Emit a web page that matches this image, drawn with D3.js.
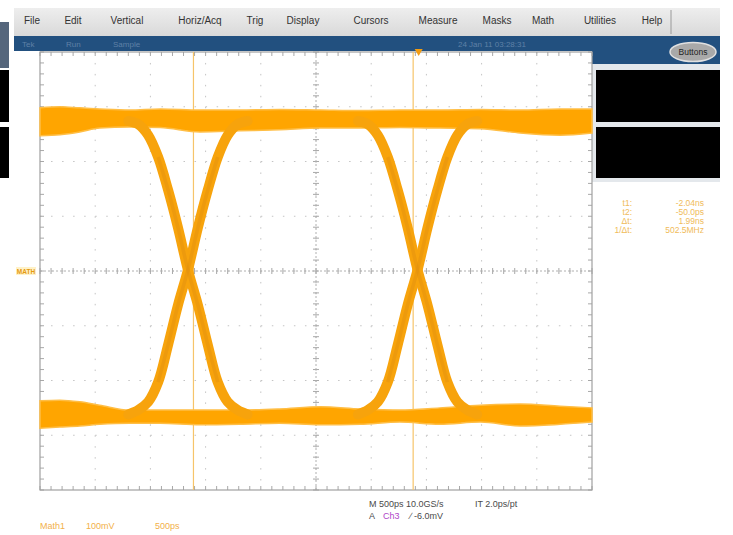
<!DOCTYPE html>
<html>
<head>
<meta charset="utf-8">
<script src="https://cdn.jsdelivr.net/npm/d3@7"></script>
<style>
body { margin: 0; background: #fff; }
svg { display: block; font-family: "Liberation Sans", "DejaVu Sans", sans-serif; }
</style>
</head>
<body>
<svg id="scope" width="733" height="535"></svg>
<script>
// menu + status texts
var menuItems = ["File", "Edit", "Vertical", "Horiz/Acq", "Trig", "Display", "Cursors", "Measure", "Masks", "Math", "Utilities", "Help"];
var statusItems = ["Tek", "Run", "Sample"];
var dateStamp = "24 Jan 11 03:28:31";

// horizontal: 10 div x 500 ps, vertical: 8 div x 100 mV
var timeRangePs = [-3430, 1570];
var voltRangeMv = [-400, 400];
var divPs = 500;
var divMv = 100;

var cursorTimesPs = [-2040, -50];
var triggerTimePs = 0;

// eye crossings and the shape of one rising edge around a crossing
var crossingTimesPs = [-2090, -10];
var edgeDtPs = [-540, -450, -360, -270, -180, -90, 0, 90, 180, 270, 360, 450, 540];
var edgeRiseMv = [-262, -254, -239, -203, -135, -62, 2, 79, 148, 208, 248, 268, 274];

// envelopes of the "1" and "0" bands
var bandTimesPs = [-3430, -3250, -3070, -2890, -2620, -2340, -1980, -1620, -1260, -890, -530, -170, 190, 560, 920, 1280, 1570];
var highUpperMv = [298, 300, 298, 296, 294, 296, 294, 294, 295, 294, 293, 294, 294, 295, 294, 296, 296];
var highLowerMv = [247, 249, 254, 261, 263, 262, 254, 256, 258, 261, 261, 262, 261, 260, 252, 248, 252];
var lowUpperMv = [-237, -236, -239, -245, -254, -254, -254, -254, -252, -248, -252, -254, -250, -245, -243, -247, -250];
var lowLowerMv = [-287, -285, -283, -280, -278, -278, -281, -280, -278, -281, -280, -276, -280, -276, -283, -280, -276];

var readoutLabels = ["t1:", "t2:", "\u0394t:", "1/\u0394t:"];
var readoutValues = ["-2.04ns", "-50.0ps", "1.99ns", "502.5MHz"];

var svg = d3.select("#scope");

var x = d3.scaleLinear().domain(timeRangePs).range([40, 592]),
    y = d3.scaleLinear().domain(voltRangeMv).range([490, 52]);

var orange = "#FFA500";

// ---------- window chrome ----------
var grad = svg.append("defs").append("linearGradient")
    .attr("id", "menuGrad").attr("x1", 0).attr("y1", 0).attr("x2", 0).attr("y2", 1);
grad.append("stop").attr("offset", "0%").attr("stop-color", "#eeeeee");
grad.append("stop").attr("offset", "100%").attr("stop-color", "#d9d9d9");

svg.append("rect").attr("x", 14).attr("y", 8).attr("width", 706).attr("height", 28)
    .attr("fill", "url(#menuGrad)");
svg.append("line").attr("x1", 671).attr("x2", 671).attr("y1", 10).attr("y2", 34)
    .attr("stroke", "#9a9a9a");

var menuCenters = [32, 73, 127, 200, 255, 303, 371, 438, 497, 543, 600, 652];
svg.selectAll(".menu")
    .data(menuItems)
    .enter().append("text")
    .attr("class", "menu")
    .attr("x", function (d, i) { return menuCenters[i]; })
    .attr("y", 24)
    .attr("text-anchor", "middle")
    .attr("font-size", 10)
    .attr("fill", "#333")
    .text(function (d) { return d; });

// blue status bar
svg.append("rect").attr("x", 14).attr("y", 36).attr("width", 706).attr("height", 15).attr("fill", "#22507f");
svg.append("rect").attr("x", 592).attr("y", 36).attr("width", 128).attr("height", 28).attr("fill", "#22507f");

var statusX = [22, 66, 113];
svg.selectAll(".status")
    .data(statusItems)
    .enter().append("text")
    .attr("x", function (d, i) { return statusX[i]; })
    .attr("y", 47)
    .attr("font-size", 8)
    .attr("fill", "#5f80a6")
    .text(function (d) { return d; });
svg.append("text").attr("x", 458).attr("y", 47).attr("font-size", 8)
    .attr("fill", "#5f80a6").text(dateStamp);

svg.append("ellipse").attr("cx", 693).attr("cy", 52).attr("rx", 23).attr("ry", 9.5)
    .attr("fill", "#a9a9a9").attr("stroke", "#e0e0e0").attr("stroke-width", 1.5);
svg.append("text").attr("x", 693).attr("y", 55).attr("text-anchor", "middle")
    .attr("font-size", 8.5).attr("fill", "#1e1e1e").text("Buttons");

// right side readout boxes
svg.append("rect").attr("x", 592).attr("y", 64).attr("width", 128).attr("height", 118).attr("fill", "#e4e8ec");
svg.append("rect").attr("x", 596).attr("y", 70).attr("width", 124).attr("height", 52).attr("fill", "#000");
svg.append("rect").attr("x", 596).attr("y", 127).attr("width", 124).attr("height", 51).attr("fill", "#000");

// partial window at the far left
svg.append("rect").attr("x", 0).attr("y", 22).attr("width", 9).attr("height", 46).attr("fill", "#55667c");
svg.append("rect").attr("x", 0).attr("y", 70).attr("width", 9).attr("height", 52).attr("fill", "#000");
svg.append("rect").attr("x", 0).attr("y", 127).attr("width", 9).attr("height", 51).attr("fill", "#000");

// ---------- graticule ----------
var g = svg.append("g");
var gridColor = "#c4c4c4";
var vDivs = d3.range(0, 11).map(function (i) { return timeRangePs[0] + i * divPs; });
var hDivs = d3.range(0, 9).map(function (i) { return voltRangeMv[0] + i * divMv; });
var tCenter = timeRangePs[0] + 5 * divPs;

g.selectAll(".vgrid").data(vDivs.slice(1, 10)).enter().append("line")
    .attr("x1", function (d) { return x(d); }).attr("x2", function (d) { return x(d); })
    .attr("y1", y(voltRangeMv[1])).attr("y2", y(voltRangeMv[0]))
    .attr("stroke", gridColor).attr("stroke-dasharray", "1.5,9.45");
g.selectAll(".hgrid").data(hDivs.slice(1, 8)).enter().append("line")
    .attr("y1", function (d) { return y(d); }).attr("y2", function (d) { return y(d); })
    .attr("x1", x(timeRangePs[0])).attr("x2", x(timeRangePs[1]))
    .attr("stroke", gridColor).attr("stroke-dasharray", "1.5,9.54");

// minor ticks on the center axes and border
var minorT = d3.range(0, 51).map(function (i) { return timeRangePs[0] + i * divPs / 5; });
var minorV = d3.range(0, 41).map(function (i) { return voltRangeMv[0] + i * divMv / 5; });

function tickSetX(yPos, dy0, dy1) {
    g.append("g").selectAll("line").data(minorT).enter().append("line")
        .attr("x1", function (d) { return x(d); }).attr("x2", function (d) { return x(d); })
        .attr("y1", yPos + dy0).attr("y2", yPos + dy1)
        .attr("stroke", "#a8a8a8");
}
function tickSetY(xPos, dx0, dx1) {
    g.append("g").selectAll("line").data(minorV).enter().append("line")
        .attr("y1", function (d) { return y(d); }).attr("y2", function (d) { return y(d); })
        .attr("x1", xPos + dx0).attr("x2", xPos + dx1)
        .attr("stroke", "#a8a8a8");
}
tickSetX(y(0), -3, 3);
tickSetY(x(tCenter), -3, 3);
tickSetX(y(voltRangeMv[1]), 0, 4);
tickSetX(y(voltRangeMv[0]), -4, 0);
tickSetY(x(timeRangePs[0]), 0, 4);
tickSetY(x(timeRangePs[1]), -4, 0);

g.append("line").attr("x1", x(timeRangePs[0])).attr("x2", x(timeRangePs[1]))
    .attr("y1", y(0)).attr("y2", y(0)).attr("stroke", "#b0b0b0").attr("stroke-dasharray", "2,2");
g.append("line").attr("x1", x(tCenter)).attr("x2", x(tCenter))
    .attr("y1", y(voltRangeMv[1])).attr("y2", y(voltRangeMv[0])).attr("stroke", "#b0b0b0").attr("stroke-dasharray", "2,2");

g.append("rect")
    .attr("x", x(timeRangePs[0])).attr("y", y(voltRangeMv[1]))
    .attr("width", x(timeRangePs[1]) - x(timeRangePs[0]))
    .attr("height", y(voltRangeMv[0]) - y(voltRangeMv[1]))
    .attr("fill", "none").attr("stroke", "#a0a0a0").attr("stroke-width", 1.2);

// cursors
g.selectAll(".cursor").data(cursorTimesPs).enter().append("line")
    .attr("x1", function (d) { return x(d); }).attr("x2", function (d) { return x(d); })
    .attr("y1", y(voltRangeMv[1])).attr("y2", y(voltRangeMv[0]))
    .attr("stroke", "#f6c46a").attr("stroke-width", 1.2);

// ---------- eye diagram ----------
var trace = svg.append("g");

var bands = [
    { upper: highUpperMv, lower: highLowerMv },
    { upper: lowUpperMv, lower: lowLowerMv }
];
var area = d3.area()
    .x(function (d) { return x(d.t); })
    .y0(function (d) { return y(d.lo); })
    .y1(function (d) { return y(d.hi); })
    .curve(d3.curveMonotoneX);

bands.forEach(function (b) {
    var pts = bandTimesPs.map(function (t, i) { return { t: t, hi: b.upper[i], lo: b.lower[i] }; });
    trace.append("path")
        .datum(pts)
        .attr("d", area)
        .attr("fill", orange)
        .attr("stroke", "#ffbe45")
        .attr("stroke-width", 1.5);
});

var line = d3.line()
    .x(function (d) { return x(d.t); })
    .y(function (d) { return y(d.v); })
    .curve(d3.curveCatmullRom);

var fallMv = edgeRiseMv.slice().reverse();
crossingTimesPs.forEach(function (c) {
    [edgeRiseMv, fallMv].forEach(function (prof) {
        var pts = edgeDtPs.map(function (dt, i) { return { t: c + dt, v: prof[i] }; });
        trace.append("path")
            .datum(pts)
            .attr("d", line)
            .attr("fill", "none")
            .attr("stroke", "#f7a30c")
            .attr("stroke-width", 10)
            .attr("stroke-linecap", "round");
    });
});
// darker core where the edges overlap
crossingTimesPs.forEach(function (c) {
    [edgeRiseMv, fallMv].forEach(function (prof) {
        var pts = edgeDtPs.slice(3, 10).map(function (dt, i) { return { t: c + dt, v: prof[i + 3] }; });
        trace.append("path")
            .datum(pts)
            .attr("d", line)
            .attr("fill", "none")
            .attr("stroke", "#d98a10")
            .attr("stroke-opacity", 0.35)
            .attr("stroke-width", 3.5);
    });
});

// trigger position marker
var tx = x(triggerTimePs);
svg.append("path")
    .attr("d", "M" + (tx - 4) + ",49 L" + (tx + 4) + ",49 L" + tx + ",56 Z")
    .attr("fill", "#f39c12");

// math reference marker
svg.append("rect").attr("x", 16).attr("y", y(0) - 4).attr("width", 20).attr("height", 8).attr("fill", "#fff2c8");
svg.append("text").attr("x", 26).attr("y", y(0) + 2.5).attr("text-anchor", "middle")
    .attr("font-size", 6.5).attr("font-weight", "bold").attr("fill", "#e59a10").text("MATH");

// cursor readout
var ro = svg.append("g").attr("font-size", 8.5).attr("fill", "#f0bb5a");
ro.selectAll(".lab").data(readoutLabels).enter().append("text")
    .attr("x", 632).attr("y", function (d, i) { return 206 + i * 9; })
    .attr("text-anchor", "end").text(function (d) { return d; });
ro.selectAll(".val").data(readoutValues).enter().append("text")
    .attr("x", 704).attr("y", function (d, i) { return 206 + i * 9; })
    .attr("text-anchor", "end").text(function (d) { return d; });

// bottom status lines
var bt = svg.append("g").attr("font-size", 9).attr("fill", "#4a4a4a");
bt.append("text").attr("x", 369).attr("y", 507).text("M 500ps 10.0GS/s");
bt.append("text").attr("x", 475).attr("y", 507).text("IT 2.0ps/pt");
bt.append("text").attr("x", 369).attr("y", 519).text("A");
bt.append("text").attr("x", 383).attr("y", 519).attr("fill", "#b044c8").text("Ch3");
bt.append("text").attr("x", 410).attr("y", 519).text("\u2215  -6.0mV");

var mt = svg.append("g").attr("font-size", 9).attr("fill", "#f2b04a");
mt.append("text").attr("x", 40).attr("y", 529).text("Math1");
mt.append("text").attr("x", 86).attr("y", 529).text("100mV");
mt.append("text").attr("x", 155).attr("y", 529).text("500ps");
</script>
</body>
</html>
